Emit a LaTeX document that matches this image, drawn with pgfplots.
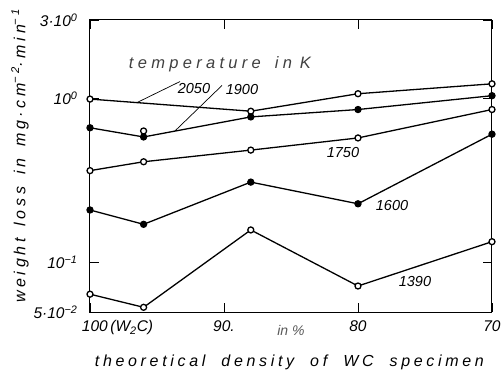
\documentclass[border=0pt]{standalone}
\usepackage{fontspec}
\setmainfont{Liberation Sans}
\newfontfamily\spaced[LetterSpace=23]{Liberation Sans}
\newfontfamily\spacedb[LetterSpace=26]{Liberation Sans}
\usepackage{pgfplots}
\pgfplotsset{compat=1.18}
\begin{document}
\begin{tikzpicture}[x=1pt,y=1pt]
\path[use as bounding box] (0,0) rectangle (504,380);
\begin{axis}[
  at={(90pt,68pt)}, anchor=south west,
  scale only axis, width=402pt, height=292pt,
  xmin=70, xmax=100, x dir=reverse,
  ymode=log, ymin=0.05, ymax=3,
  xtick={100,90,80,70},
  xticklabels={\makebox[0pt][l]{\hspace{-8pt}100\,(W\textsubscript{2}C)},90.,80,70},
  ytick={0.05,0.1,1,3},
  yticklabels={5·10\textsuperscript{−2},10\textsuperscript{−1},10\textsuperscript{0},3·10\textsuperscript{0}},
  yminorticks=false, xminorticks=false,
  tick align=inside, major tick length=9pt,
  xtick pos=both, xticklabel pos=lower,
  ytick pos=both, yticklabel pos=left,
  every tick label/.append style={font=\fontsize{15.5}{17}\selectfont\itshape},
  xticklabel style={yshift=-5pt},
  yticklabel style={anchor=east, xshift=-9pt},
  axis line style={line width=1pt},
  every tick/.style={black, line width=0.8pt},
  clip=false,
  xlabel={theoretical\hspace{16pt}density\hspace{16pt}of\hspace{16pt}WC\hspace{16pt}specimen},
  xlabel style={at={(axis description cs:0.496,-0.171)}, anchor=center, font=\spaced\fontsize{16}{18}\selectfont\itshape},
  ylabel={weight\hspace{12pt}loss\hspace{12pt}in\hspace{12pt}mg·cm\textsuperscript{−2}·min\textsuperscript{−1}},
  ylabel style={at={(axis description cs:-0.174,0.534)}, anchor=center, rotate=0, font=\spaced\fontsize{16}{18}\selectfont\itshape},
  every axis plot/.append style={black, line width=1.3pt, mark size=3pt, mark options={solid, line width=0.8pt}},
]
% 2050 (open)
\addplot[mark=*, mark options={fill=white}] coordinates {(100,0.99) (88,0.835) (80,1.067) (70,1.226)};
\addplot[only marks, mark=*, mark options={fill=white}] coordinates {(96,0.633)};
% 1900 (filled)
\addplot[mark=*, mark options={fill=black}] coordinates {(100,0.662) (96,0.582) (88,0.771) (80,0.855) (70,1.038)};
% 1750 (open)
\addplot[mark=*, mark options={fill=white}] coordinates {(100,0.363) (96,0.411) (88,0.484) (80,0.574) (70,0.855)};
% 1600 (filled)
\addplot[mark=*, mark options={fill=black}] coordinates {(100,0.209) (96,0.171) (88,0.309) (80,0.228) (70,0.605)};
% 1390 (open)
\addplot[mark=*, mark options={fill=white}] coordinates {(100,0.0642) (96,0.0534) (88,0.158) (80,0.0720) (70,0.134)};
% annotations
\draw[line width=0.7pt] (axis cs:96.5,0.942) -- (axis cs:93.28,1.266);
\draw[line width=0.7pt] (axis cs:93.66,0.633) -- (axis cs:90.15,1.198);
\node[font=\fontsize{14.5}{16}\selectfont\itshape] at (axis cs:92.24,1.149) {2050};
\node[font=\fontsize{14.5}{16}\selectfont\itshape] at (axis cs:88.66,1.133) {1900};
\node[font=\fontsize{14.5}{16}\selectfont\itshape] at (axis cs:81.12,0.466) {1750};
\node[font=\fontsize{14.5}{16}\selectfont\itshape] at (axis cs:77.46,0.224) {1600};
\node[font=\fontsize{14.5}{16}\selectfont\itshape] at (axis cs:75.75,0.0770) {1390};
\node[font=\spacedb\fontsize{16.5}{18}\selectfont\itshape, text=black!75] at (axis cs:90.3,1.603) {temperature\hspace{14pt}in\hspace{8pt}K};
\node[font=\fontsize{14}{16}\selectfont\itshape, text=black!65] at (axis cs:85.0,0.0384) {in\hspace{4pt}\%};
\end{axis}
\end{tikzpicture}
\end{document}
